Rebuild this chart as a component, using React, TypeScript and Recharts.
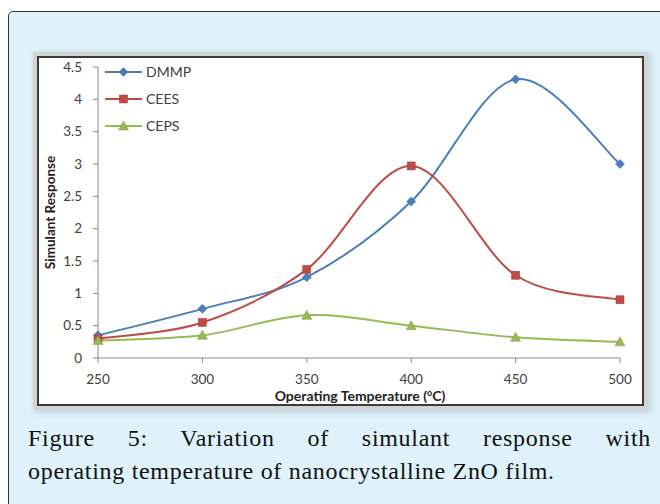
import { LineChart, Line, XAxis, YAxis, Legend } from "recharts";

const temps = [250, 300, 350, 400, 450, 500];
const dmmp = [0.35, 0.76, 1.25, 2.42, 4.31, 3.0];
const cees = [0.3, 0.55, 1.37, 2.97, 1.28, 0.9];
const ceps = [0.27, 0.35, 0.66, 0.5, 0.32, 0.25];
const yTicks = [0, 0.5, 1, 1.5, 2, 2.5, 3, 3.5, 4, 4.5];
const seriesNames = ["DMMP", "CEES", "CEPS"];

const data = temps.map((t, i) => ({ t, DMMP: dmmp[i], CEES: cees[i], CEPS: ceps[i] }));

const BLUE = "#4a7ebb";
const RED = "#be4b48";
const GREEN = "#98b954";
const AXIS = "#8a8a8a";
const FONT = "Lato, 'Open Sans', sans-serif";

// Excel-like smoothing (Catmull-Rom through the points)
const smooth = (context: any) => {
  let pts: number[][] = [];
  return {
    areaStart() {},
    areaEnd() {},
    lineStart() {
      pts = [];
    },
    lineEnd() {
      const n = pts.length;
      if (!n) return;
      context.moveTo(pts[0][0], pts[0][1]);
      for (let i = 0; i < n - 1; i++) {
        const p0 = pts[i - 1] || pts[i];
        const p1 = pts[i];
        const p2 = pts[i + 1];
        const p3 = pts[i + 2] || p2;
        context.bezierCurveTo(
          p1[0] + (p2[0] - p0[0]) / 6,
          p1[1] + (p2[1] - p0[1]) / 6,
          p2[0] - (p3[0] - p1[0]) / 6,
          p2[1] - (p3[1] - p1[1]) / 6,
          p2[0],
          p2[1]
        );
      }
    },
    point(x: number, y: number) {
      pts.push([+x, +y]);
    },
  };
};

function Marker({ kind, cx, cy, color }: { kind: string; cx: number; cy: number; color: string }) {
  if (kind === "diamond")
    return (
      <path
        d={`M${cx},${cy - 4.5}L${cx + 4.5},${cy}L${cx},${cy + 4.5}L${cx - 4.5},${cy}Z`}
        fill={color}
        stroke="#3a6aa5"
        strokeWidth={0.5}
      />
    );
  if (kind === "square")
    return <rect x={cx - 4} y={cy - 4} width={8} height={8} fill={color} stroke="#a03c3a" strokeWidth={0.5} />;
  return (
    <path
      d={`M${cx},${cy - 5}L${cx + 5},${cy + 4}L${cx - 5},${cy + 4}Z`}
      fill={color}
      stroke="#7f9c45"
      strokeWidth={0.5}
    />
  );
}

const kinds: Record<string, string> = { DMMP: "diamond", CEES: "square", CEPS: "triangle" };

const makeDot = (name: string, color: string) => (props: any) =>
  <Marker key={`${name}-${props.index}`} kind={kinds[name]} cx={props.cx} cy={props.cy} color={color} />;

function LegendBox(props: any) {
  const items = [...(props.payload || [])].sort(
    (a: any, b: any) => seriesNames.indexOf(a.value) - seriesNames.indexOf(b.value)
  );
  return (
    <svg width={100} height={80}>
      {items.map((it: any, i: number) => {
        const y = 10 + i * 27;
        return (
          <g key={it.value}>
            <line x1={0} x2={37} y1={y} y2={y} stroke={it.color} strokeWidth={2} />
            <Marker kind={kinds[it.value]} cx={18.5} cy={y} color={it.color} />
            <text x={41} y={y + 5} fontSize={14} fill="#404040" fontFamily={FONT}>
              {it.value}
            </text>
          </g>
        );
      })}
    </svg>
  );
}

const captionStyle = {
  fontFamily: "'Liberation Serif', serif",
  fontSize: 24,
  letterSpacing: 0.7,
  lineHeight: "33px",
  color: "#111",
  whiteSpace: "nowrap" as const,
};

export default function App() {
  return (
    <div
      style={{
        position: "absolute",
        left: 0,
        top: 0,
        width: 660,
        height: 504,
        overflow: "hidden",
        background: "#fff",
      }}
    >
      <div
        style={{
          position: "absolute",
          left: 8,
          top: 11,
          width: 700,
          height: 540,
          background: "#dff1fb",
          border: "1.5px solid #333",
          borderRadius: 5,
          boxSizing: "border-box",
        }}
      />
      <div
        style={{
          position: "absolute",
          left: 37,
          top: 56,
          width: 607,
          height: 350,
          boxSizing: "border-box",
          background: "#fff",
          border: "2px solid #3a3a3a",
          boxShadow: "0 0 0 4px #d4d4d4, 2px 2px 6px 5px rgba(0,0,0,0.12)",
        }}
      >
        <LineChart width={603} height={346} data={data} margin={{ top: 9, right: 22, bottom: 16, left: 0 }}>
          <XAxis
            dataKey="t"
            type="number"
            domain={[250, 500]}
            ticks={temps}
            stroke={AXIS}
            tickSize={5}
            tickMargin={11}
            height={30}
            tick={{ fill: "#404040", fontSize: 13.5, fontFamily: FONT }}
          />
          <YAxis
            type="number"
            domain={[0, 4.5]}
            ticks={yTicks}
            width={59}
            stroke={AXIS}
            tickSize={5}
            tickMargin={11}
            tick={{ fill: "#404040", fontSize: 13.5, fontFamily: FONT }}
            label={{
              value: "Simulant Response",
              angle: -90,
              position: "insideLeft",
              offset: 11,
              fontSize: 13.5,
              fontWeight: 700,
              fill: "#222",
              fontFamily: FONT,
              style: { textAnchor: "middle", fontWeight: 700, fontSize: 13.5, fill: "#222", fontFamily: FONT },
            }}
          />
          <Legend
            layout="vertical"
            align="center"
            verticalAlign="middle"
            content={LegendBox}
            wrapperStyle={{ left: 66, top: 4, width: 100, height: 80 }}
          />
          <Line
            dataKey="DMMP"
            stroke={BLUE}
            strokeWidth={2}
            type={smooth as any}
            dot={makeDot("DMMP", BLUE)}
            isAnimationActive={false}
          />
          <Line
            dataKey="CEES"
            stroke={RED}
            strokeWidth={2}
            type={smooth as any}
            dot={makeDot("CEES", RED)}
            isAnimationActive={false}
          />
          <Line
            dataKey="CEPS"
            stroke={GREEN}
            strokeWidth={2}
            type={smooth as any}
            dot={makeDot("CEPS", GREEN)}
            isAnimationActive={false}
          />
        </LineChart>
        <div
          style={{
            position: "absolute",
            left: 171,
            width: 300,
            top: 331,
            textAlign: "center",
            fontFamily: FONT,
            fontWeight: 700,
            fontSize: 14,
            color: "#222",
            lineHeight: "14px",
          }}
        >
          Operating Temperature (<sup style={{ fontSize: 9, verticalAlign: "5px", lineHeight: 0 }}>o</sup>C)
        </div>
      </div>
      <div style={{ position: "absolute", left: 28, top: 422, width: 623 }}>
        <div style={{ ...captionStyle, whiteSpace: "normal", textAlign: "justify", textAlignLast: "justify" }}>
          Figure 5: Variation of simulant response with
        </div>
        <div style={captionStyle}>operating temperature of nanocrystalline ZnO film.</div>
      </div>
    </div>
  );
}
